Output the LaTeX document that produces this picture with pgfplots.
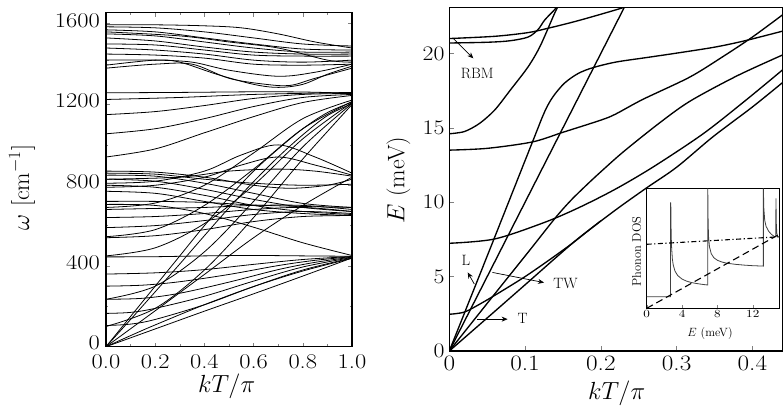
\documentclass[border=0pt]{standalone}
\usepackage{pgfplots}
\pgfplotsset{compat=1.18}
\usetikzlibrary{arrows.meta}
\begin{document}
\begin{tikzpicture}
\useasboundingbox (0bp,0bp) rectangle (784bp,414bp);
\pgfplotsset{
  br/.style={black, line width=0.8pt, smooth, tension=0.55},
  bb/.style={black, line width=1.35pt, smooth, tension=0.5},
}
% ---------------- left panel: full phonon dispersion ----------------
\begin{axis}[
  at={(106bp,67.3bp)}, anchor=south west,
  scale only axis, width=246bp, height=334bp,
  xmin=0, xmax=1, ymin=0, ymax=1655,
  xtick={0,0.2,0.4,0.6,0.8,1.0},
  xticklabels={0.0,0.2,0.4,0.6,0.8,1.0},
  ytick={0,400,800,1200,1600},
  yticklabels={0,400,800,1200,1600},
  minor x tick num=1, minor y tick num=1,
  tick align=inside, major tick length=4bp, minor tick length=2.5bp,
  axis line style={line width=1.3pt},
  tick style={line width=0.6pt},
  tick label style={font=\fontsize{21}{23}\selectfont, inner sep=1bp},
  xticklabel style={xscale=1.17, yshift=-7bp},
  yticklabel style={xscale=1.17, yshift=3.5bp, xshift=-4bp},
]
% low band, converging near 440 at the zone edge
\addplot[br] coordinates {(0,0) (0.2,88) (0.4,176) (0.6,262) (0.8,350) (1,440)};
\addplot[br] coordinates {(0,0) (0.1,55) (0.2,108) (0.4,208) (0.6,298) (0.8,375) (1,438)};
\addplot[br] coordinates {(0,105) (0.1,112) (0.2,135) (0.4,208) (0.6,298) (0.8,380) (1,440)};
\addplot[br] coordinates {(0,165) (0.1,170) (0.2,190) (0.4,250) (0.6,325) (0.8,395) (1,442)};
\addplot[br] coordinates {(0,235) (0.15,240) (0.3,265) (0.5,320) (0.7,382) (0.85,418) (1,444)};
\addplot[br] coordinates {(0,300) (0.15,305) (0.3,322) (0.5,358) (0.7,402) (0.85,428) (1,446)};
\addplot[br] coordinates {(0,360) (0.2,366) (0.4,382) (0.6,408) (0.8,432) (1,447)};
\addplot[br] coordinates {(0,445) (0.2,446) (0.4,450) (0.6,452) (0.8,450) (1,448)};
\addplot[br] coordinates {(0,705) (0.2,700) (0.4,660) (0.6,592) (0.8,515) (1,452)};
% steep branches rising to the 1200 bunch
\addplot[br] coordinates {(0,0) (0.1,150) (0.2,300) (0.3,450) (0.4,600) (0.5,740) (0.6,870) (0.7,980) (0.8,1080) (0.9,1160) (1,1212)};
\addplot[br] coordinates {(0,0) (0.1,135) (0.2,272) (0.3,410) (0.4,550) (0.5,688) (0.6,818) (0.7,940) (0.8,1050) (0.9,1145) (1,1205)};
\addplot[br] coordinates {(0,0) (0.2,178) (0.4,358) (0.6,540) (0.8,700) (1,840)};
\addplot[br] coordinates {(0,100) (0.2,190) (0.4,380) (0.6,640) (0.8,930) (1,1200)};
\addplot[br] coordinates {(0,235) (0.2,300) (0.4,470) (0.6,720) (0.8,990) (1,1205)};
\addplot[br] coordinates {(0,450) (0.2,490) (0.4,610) (0.6,800) (0.8,1030) (1,1210)};
\addplot[br] coordinates {(0,545) (0.2,580) (0.4,700) (0.6,880) (0.8,1080) (1,1215)};
\addplot[br] coordinates {(0,690) (0.2,712) (0.4,800) (0.6,960) (0.8,1130) (1,1222)};
% band around 650
\addplot[br] coordinates {(0,540) (0.2,550) (0.4,580) (0.6,620) (0.8,645) (1,650)};
\addplot[br] coordinates {(0,590) (0.2,600) (0.4,625) (0.6,655) (0.8,670) (1,660)};
\addplot[br] coordinates {(0,640) (0.2,645) (0.4,660) (0.6,680) (0.8,690) (1,670)};
\addplot[br] coordinates {(0,680) (0.2,685) (0.4,690) (0.6,700) (0.8,700) (1,680)};
\addplot[br] coordinates {(0,720) (0.2,720) (0.4,715) (0.6,702) (0.8,695) (1,690)};
% band around 850
\addplot[br] coordinates {(0,870) (0.2,865) (0.4,840) (0.6,800) (0.75,785) (0.9,800) (1,830)};
\addplot[br] coordinates {(0,860) (0.2,855) (0.4,830) (0.6,810) (0.8,800) (1,805)};
\addplot[br] coordinates {(0,850) (0.2,845) (0.4,810) (0.6,760) (0.8,710) (1,690)};
\addplot[br] coordinates {(0,830) (0.2,820) (0.4,780) (0.6,730) (0.8,690) (1,670)};
\addplot[br] coordinates {(0,800) (0.2,790) (0.4,750) (0.6,700) (0.8,670) (1,655)};
\addplot[br] coordinates {(0,770) (0.2,760) (0.4,720) (0.6,680) (0.8,660) (1,650)};
\addplot[br] coordinates {(0,810) (0.2,820) (0.4,870) (0.55,950) (0.7,1000) (0.85,940) (1,860)};
\addplot[br] coordinates {(0,790) (0.2,800) (0.4,840) (0.55,900) (0.7,940) (0.85,900) (1,850)};
\addplot[br] coordinates {(0,830) (0.3,840) (0.5,870) (0.7,880) (0.85,870) (1,845)};
% band around 1250
\addplot[br] coordinates {(0,940) (0.2,980) (0.4,1060) (0.6,1140) (0.8,1210) (1,1245)};
\addplot[br] coordinates {(0,1055) (0.2,1080) (0.4,1130) (0.6,1190) (0.8,1235) (1,1250)};
\addplot[br] coordinates {(0,1150) (0.2,1165) (0.4,1195) (0.6,1230) (0.8,1250) (1,1255)};
\addplot[br] coordinates {(0,1225) (0.3,1235) (0.6,1250) (1,1260)};
\addplot[br] coordinates {(0,1258) (0.3,1260) (0.6,1263) (0.8,1262) (1,1256)};
% top band
\addplot[br] coordinates {(0,1595) (0.2,1595) (0.4,1590) (0.55,1580) (0.7,1550) (0.85,1510) (1,1480)};
\addplot[br] coordinates {(0,1585) (0.2,1580) (0.4,1560) (0.6,1530) (0.8,1500) (1,1490)};
\addplot[br] coordinates {(0,1570) (0.2,1560) (0.4,1530) (0.6,1500) (0.8,1475) (1,1470)};
\addplot[br] coordinates {(0,1550) (0.2,1540) (0.4,1510) (0.6,1480) (0.8,1460) (1,1460)};
\addplot[br] coordinates {(0,1530) (0.2,1515) (0.4,1485) (0.6,1460) (0.8,1450) (1,1450)};
\addplot[br] coordinates {(0,1500) (0.2,1495) (0.4,1470) (0.6,1445) (0.8,1440) (1,1440)};
\addplot[br] coordinates {(0,1480) (0.2,1470) (0.4,1450) (0.6,1420) (0.8,1410) (1,1420)};
\addplot[br] coordinates {(0,1450) (0.2,1445) (0.4,1430) (0.6,1400) (0.8,1395) (1,1400)};
\addplot[br] coordinates {(0,1420) (0.2,1420) (0.35,1410) (0.5,1370) (0.7,1340) (0.85,1360) (1,1400)};
\addplot[br] coordinates {(0,1395) (0.2,1420) (0.3,1410) (0.45,1350) (0.6,1300) (0.7,1285) (0.8,1300) (0.9,1350) (1,1390)};
\addplot[br] coordinates {(0,1380) (0.2,1400) (0.35,1400) (0.5,1330) (0.65,1300) (0.75,1295) (0.85,1330) (1,1380)};
\addplot[br] coordinates {(0,1560) (0.3,1540) (0.5,1510) (0.7,1480) (0.9,1420) (1,1410)};
\end{axis}
\node[rotate=90, font=\fontsize{24}{26}\selectfont] at (22bp,226.5bp) {$\omega$ [cm$^{-1}$]};
\node[font=\fontsize{24}{26}\selectfont] at (226.7bp,28bp) {$kT/\pi$};

% ---------------- right panel: low-energy branches ----------------
\begin{axis}[
  at={(449.3bp,63bp)}, anchor=south west,
  scale only axis, width=333.4bp, height=343.7bp,
  xmin=0, xmax=0.44, ymin=0, ymax=23.1,
  xtick={0,0.1,0.2,0.3,0.4},
  xticklabels={0,0.1,0.2,0.3,0.4},
  ytick={0,5,10,15,20},
  xtick pos=bottom, ytick pos=left,
  tick align=inside, major tick length=5bp,
  axis line style={line width=1.3pt},
  tick style={line width=0.6pt},
  tick label style={font=\fontsize{22}{24}\selectfont, inner sep=1bp},
  xticklabel style={xscale=1.15, yshift=-4bp},
  yticklabel style={xscale=1.15, xshift=-3bp},
]
% branches starting at zero energy
\addplot[bb] coordinates {(0,0) (0.0528,6.74) (0.1096,14.03) (0.126,16.1) (0.137,17.1) (0.152,18.0) (0.17,18.65) (0.19,19.05) (0.22,19.42) (0.26,19.72) (0.3,20.02) (0.35,20.42) (0.39,20.85) (0.44,21.5)};
\addplot[bb] coordinates {(0,0) (0.235,23.5)};
\addplot[bb] coordinates {(0,0) (0.0528,3.38) (0.1056,6.74) (0.14,8.95) (0.16,10.1) (0.18,11.1) (0.199,12.0) (0.23,13.4) (0.278,15.35) (0.318,16.8) (0.38,18.5) (0.44,19.9)};
\addplot[bb] coordinates {(0,0) (0.05,2.22) (0.1,4.45) (0.141,6.29) (0.172,7.64) (0.22,9.5) (0.26,10.95) (0.3,12.35) (0.348,14.4) (0.4,16.4) (0.44,18.05)};
% branches with a finite energy at the zone centre
\addplot[bb] coordinates {(0,2.47) (0.02,2.62) (0.044,3.26) (0.07,4.05) (0.1,5.0) (0.13,6.05) (0.16,7.15) (0.18,7.95) (0.2,8.75)};
\addplot[bb] coordinates {(0,7.24) (0.06,7.53) (0.126,8.65) (0.172,9.66) (0.22,10.9) (0.27,12.4) (0.335,14.6) (0.39,16.8) (0.44,18.9)};
\addplot[bb] coordinates {(0,13.5) (0.05,13.62) (0.1096,14.05) (0.15,14.7) (0.199,15.5) (0.2186,15.9) (0.255,16.9) (0.317,18.4) (0.36,19.75) (0.4,21.1) (0.44,22.6)};
\addplot[bb] coordinates {(0,14.6) (0.02,14.75) (0.04,15.3) (0.06,16.2) (0.08,17.5) (0.104,19.1) (0.12,20.5) (0.139,22.7) (0.146,23.4)};
\addplot[bb] coordinates {(0,20.7) (0.05,20.75) (0.08,20.85) (0.104,21.1) (0.117,21.6) (0.126,22.25) (0.14,23.0) (0.146,23.4)};
\addplot[bb] coordinates {(0,21.0) (0.06,21.15) (0.104,21.4) (0.131,21.7) (0.17,22.2) (0.218,22.9) (0.24,23.25)};
% mode labels
\draw[-{Stealth[length=6bp,width=5bp]}, line width=0.7pt] (axis cs:0.0053,21.0) -- (axis cs:0.0317,19.67);
\node[font=\fontsize{15}{17}\selectfont] at (axis cs:0.0368,18.63) {RBM};
\draw[-{Stealth[length=6bp,width=5bp]}, line width=0.7pt] (axis cs:0.033,4.5) -- (axis cs:0.0243,5.28);
\node[font=\fontsize{15}{17}\selectfont] at (axis cs:0.022,6.07) {L};
\draw[-{Stealth[length=6bp,width=5bp]}, line width=0.7pt] (axis cs:0.057,5.28) -- (axis cs:0.125,4.6);
\node[font=\fontsize{15}{17}\selectfont] at (axis cs:0.1535,4.56) {TW};
\draw[-{Stealth[length=6bp,width=5bp]}, line width=0.7pt] (axis cs:0.037,2.14) -- (axis cs:0.077,2.14);
\node[font=\fontsize{15}{17}\selectfont] at (axis cs:0.0968,2.2) {T};
\end{axis}
\node[rotate=90, font=\fontsize{24}{26}\selectfont] at (398.3bp,234bp) {$E$ (meV)};
\node[font=\fontsize{24}{26}\selectfont] at (616.7bp,20.5bp) {$kT/\pi$};

% ---------------- inset: phonon density of states ----------------
\begin{axis}[
  at={(646.7bp,105.7bp)}, anchor=south west,
  scale only axis, width=132.6bp, height=120bp,
  xmin=0, xmax=15, ymin=0, ymax=120,
  xtick={0,4,8,12}, ytick=\empty,
  xtick pos=bottom,
  tick align=inside, major tick length=3bp,
  axis background/.style={fill=white},
  axis line style={line width=0.9pt},
  tick label style={font=\fontsize{11}{12}\selectfont, xscale=1.2},
  xticklabel style={yshift=1bp},
]
\addplot[black!75, line width=0.8pt] coordinates {
 (0,11.6) (2.7,11.6) (2.7,106) (2.73,102.6) (2.75,83) (2.8,63.4) (2.9,49.5) (3.0,43.4)
 (3.2,37.2) (3.5,32.8) (4.0,29.2) (4.5,27.2) (5.0,25.9) (5.5,25.0) (6.0,24.3) (6.5,23.7)
 (6.9,23.3) (6.9,120) (6.92,112) (6.95,85) (7.0,71.2) (7.1,61.5) (7.3,54.6) (7.6,50.5)
 (8.0,48) (8.5,46.3) (9,45.2) (10,44) (11,43.2) (12,42.6) (13.2,42.2) (13.2,120)
 (13.25,100) (13.35,88) (13.5,82) (13.8,77) (14.1,74) (14.4,72) (14.6,71.5) (14.62,110)
 (14.66,85) (14.72,75) (14.8,72) (15,71)};
\addplot[black, line width=1.1pt, dash pattern=on 5bp off 2.5bp on 1.2bp off 2.5bp] coordinates {(0,64) (15,71.5)};
\addplot[black, line width=1.1pt, dash pattern=on 7bp off 4bp] coordinates {(0,0) (15,74)};
\end{axis}
\node[rotate=90, font=\fontsize{12.5}{14}\selectfont] at (636.7bp,162.3bp) {Phonon DOS};
\node[font=\fontsize{12}{14}\selectfont] at (710bp,80.7bp) {$E$ (meV)};
\end{tikzpicture}
\end{document}
